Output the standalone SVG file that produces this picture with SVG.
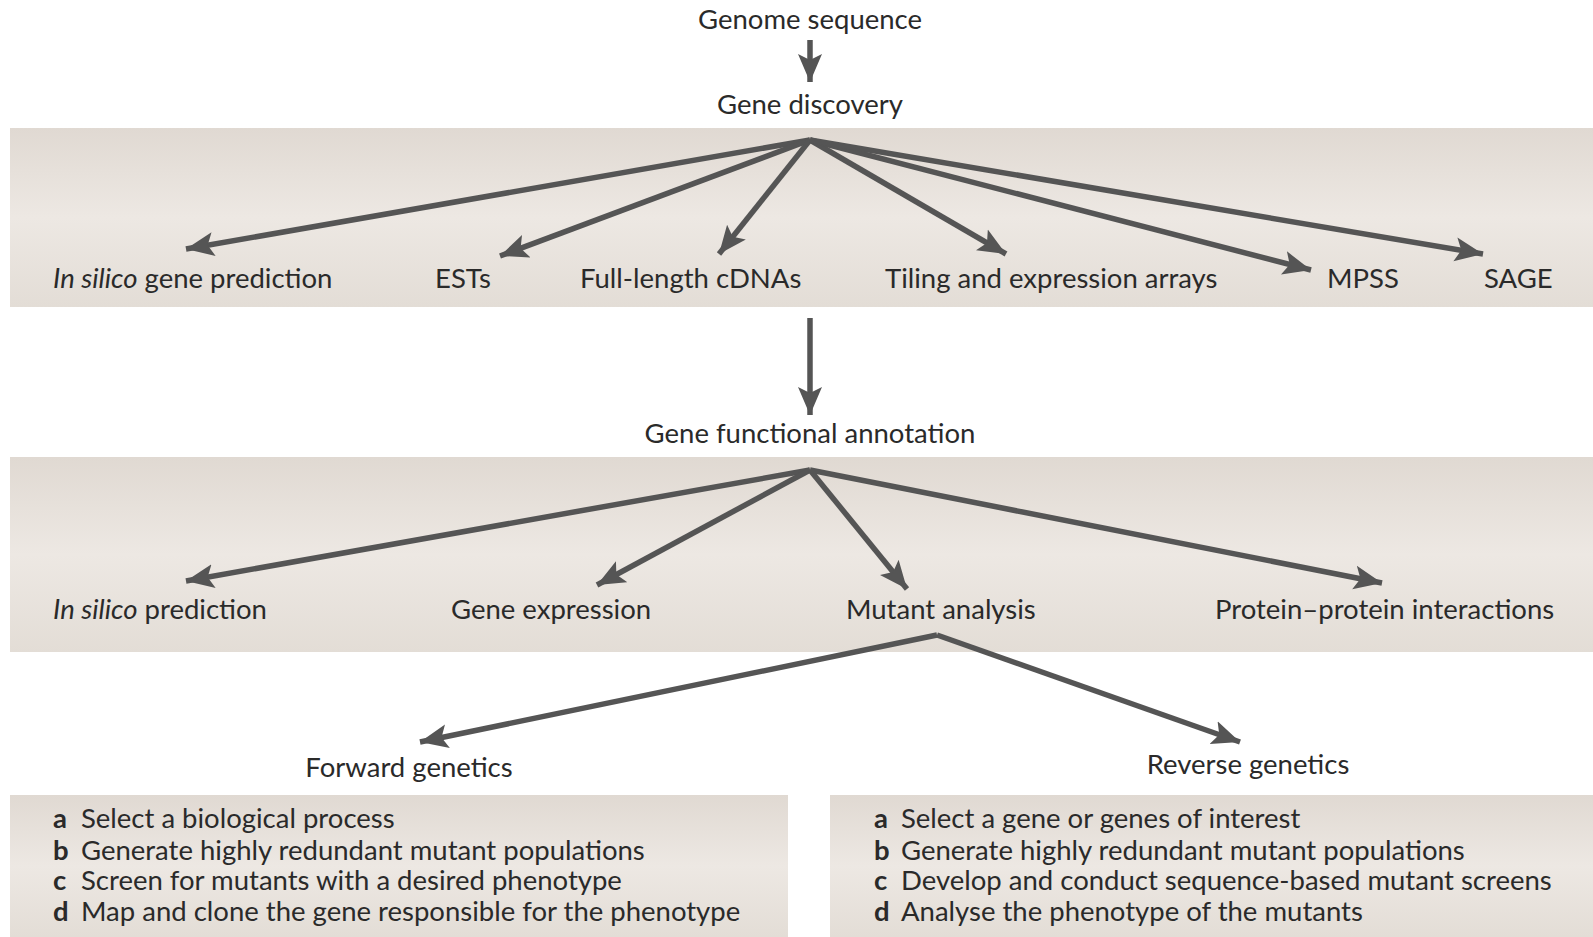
<svg xmlns="http://www.w3.org/2000/svg" width="1593" height="937" viewBox="0 0 1593 937">
<style>
text{font-family:Lato,"Open Sans","Liberation Sans",sans-serif;fill:#2a2a2a;font-size:27.5px}
.c{text-anchor:middle}
.i{font-style:italic}
.b{font-weight:bold}
.ln{stroke:#555;stroke-width:5.5;fill:none;marker-end:url(#ah)}
.band{fill:url(#bg)}
</style>
<defs>
<linearGradient id="bg" x1="0" y1="0" x2="0" y2="1">
<stop offset="0" stop-color="#e0d9d2"/>
<stop offset="0.5" stop-color="#ede8e3"/>
<stop offset="1" stop-color="#e3ddd6"/>
</linearGradient>
<marker id="ah" markerUnits="userSpaceOnUse" markerWidth="30" markerHeight="26" viewBox="0 0 30 26" refX="28" refY="13" orient="auto">
<path d="M0,1 L28,13 L0,25 L6,13 Z" fill="#555"/>
</marker>
</defs>
<rect width="1593" height="937" fill="#fff"/>
<rect class="band" x="10" y="128" width="1583" height="179"/>
<rect class="band" x="10" y="457" width="1583" height="195"/>
<rect class="band" x="10" y="795" width="778" height="142"/>
<rect class="band" x="830" y="795" width="763" height="142"/>

<g id="connectors">
<line class="ln" x1="810" y1="40" x2="810" y2="82"/>
<line class="ln" x1="810" y1="140" x2="186" y2="249"/>
<line class="ln" x1="810" y1="140" x2="500" y2="256"/>
<line class="ln" x1="810" y1="140" x2="719" y2="254"/>
<line class="ln" x1="810" y1="140" x2="1006" y2="254"/>
<line class="ln" x1="810" y1="140" x2="1311" y2="270"/>
<line class="ln" x1="810" y1="140" x2="1483" y2="254"/>
<line class="ln" x1="810" y1="318" x2="810" y2="415"/>
<line class="ln" x1="810" y1="470" x2="186" y2="581"/>
<line class="ln" x1="810" y1="470" x2="597" y2="585"/>
<line class="ln" x1="810" y1="470" x2="907" y2="589"/>
<line class="ln" x1="810" y1="470" x2="1382" y2="583"/>
<line class="ln" x1="937" y1="635" x2="420" y2="742"/>
<line class="ln" x1="937" y1="635" x2="1240" y2="742"/>
</g>

<g id="genome"><text class="c" x="810" y="29">Genome sequence</text></g>
<g id="discovery"><text class="c" x="810" y="114">Gene discovery</text></g>
<g id="insilico1"><text x="53" y="288"><tspan class="i">In silico</tspan> gene prediction</text></g>
<g id="ests"><text x="435" y="288">ESTs</text></g>
<g id="cdna"><text x="580" y="288">Full-length cDNAs</text></g>
<g id="tiling"><text x="885" y="288">Tiling and expression arrays</text></g>
<g id="mpss"><text x="1327" y="288">MPSS</text></g>
<g id="sage"><text x="1484" y="288">SAGE</text></g>
<g id="annotation"><text class="c" x="810" y="443">Gene functional annotation</text></g>
<g id="insilico2"><text x="53" y="619"><tspan class="i">In silico</tspan> prediction</text></g>
<g id="expression"><text x="451" y="619">Gene expression</text></g>
<g id="mutant"><text x="846" y="619">Mutant analysis</text></g>
<g id="ppi"><text x="1215" y="619">Protein–protein interactions</text></g>
<g id="forward"><text class="c" x="409" y="777">Forward genetics</text></g>
<g id="reverse"><text class="c" x="1248" y="774">Reverse genetics</text></g>
<g id="forward-steps">
<text x="53" y="828"><tspan class="b">a</tspan><tspan x="81">Select a biological process</tspan></text>
<text x="53" y="860"><tspan class="b">b</tspan><tspan x="81">Generate highly redundant mutant populations</tspan></text>
<text x="53" y="890"><tspan class="b">c</tspan><tspan x="81">Screen for mutants with a desired phenotype</tspan></text>
<text x="53" y="921"><tspan class="b">d</tspan><tspan x="81">Map and clone the gene responsible for the phenotype</tspan></text>
</g>
<g id="reverse-steps">
<text x="874" y="828"><tspan class="b">a</tspan><tspan x="901">Select a gene or genes of interest</tspan></text>
<text x="874" y="860"><tspan class="b">b</tspan><tspan x="901">Generate highly redundant mutant populations</tspan></text>
<text x="874" y="890"><tspan class="b">c</tspan><tspan x="901">Develop and conduct sequence-based mutant screens</tspan></text>
<text x="874" y="921"><tspan class="b">d</tspan><tspan x="901">Analyse the phenotype of the mutants</tspan></text>
</g>
</svg>
